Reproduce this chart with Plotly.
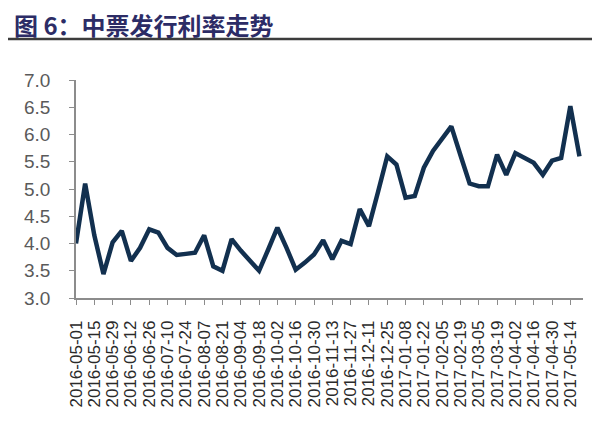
import pandas as pd
import plotly.graph_objects as go

# Weekly observation dates (2016-05-01 .. 2017-05-21)
dates = pd.date_range("2016-05-01", periods=56, freq="7D")

# 中票发行利率 (%)
rates = [4.00, 5.10, 4.15, 3.44, 4.02, 4.23, 3.68, 3.92, 4.26, 4.20,
         3.92, 3.79, 3.81, 3.83, 4.15, 3.58, 3.50, 4.08, 3.87, 3.69,
         3.50, 3.89, 4.29, 3.92, 3.52, 3.65, 3.80, 4.06, 3.71, 4.05,
         3.99, 4.63, 4.32, 4.95, 5.60, 5.45, 4.84, 4.87, 5.39, 5.70,
         5.93, 6.15, 5.62, 5.10, 5.05, 5.05, 5.63, 5.26, 5.66, 5.56,
         5.48, 5.26, 5.52, 5.57, 6.52, 5.60]

tick_labels = ["2016-05-01", "2016-05-15", "2016-05-29", "2016-06-12", "2016-06-26",
               "2016-07-10", "2016-07-24", "2016-08-07", "2016-08-21", "2016-09-04",
               "2016-09-18", "2016-10-02", "2016-10-16", "2016-10-30", "2016-11-13",
               "2016-11-27", "2016-12-11", "2016-12-25", "2017-01-08", "2017-01-22",
               "2017-02-05", "2017-02-19", "2017-03-05", "2017-03-19", "2017-04-02",
               "2017-04-16", "2017-04-30", "2017-05-14"]

y_ticks = [3.0, 3.5, 4.0, 4.5, 5.0, 5.5, 6.0, 6.5, 7.0]

title_text = "图 6：中票发行利率走势"

fig = go.Figure()
fig.add_trace(go.Scatter(
    x=dates, y=rates, mode="lines",
    line=dict(color="#12304f", width=4.5),
    hoverinfo="skip", showlegend=False,
))

x_end = dates[-1] + pd.Timedelta(days=2.7)

fig.update_layout(
    width=600, height=421,
    margin=dict(l=68, r=25, t=72, b=131),
    paper_bgcolor="white", plot_bgcolor="white",
    font=dict(family="Liberation Sans, Arial, sans-serif"),
    xaxis=dict(
        range=[dates[0], x_end],
        tickmode="array",
        tickvals=tick_labels,
        ticktext=tick_labels,
        tickangle=-90,
        tickfont=dict(size=17, color="#2a2a2a"),
        showline=True, linecolor="#8c8c8c", linewidth=1.5,
        ticks="outside", ticklen=5, tickcolor="#8c8c8c",
        showgrid=False, zeroline=False,
        ticklabelstandoff=9,
    ),
    yaxis=dict(
        range=[3.0, 7.0],
        tickmode="array",
        tickvals=y_ticks,
        ticktext=[f"{v:.1f}" for v in y_ticks],
        tickfont=dict(size=19, color="#5a5a5a"),
        showline=True, linecolor="#8c8c8c", linewidth=1.5,
        ticks="outside", ticklen=5, tickcolor="#8c8c8c",
        showgrid=False, zeroline=False,
        ticklabelstandoff=15,
    ),
)

fig.add_annotation(
    text=f"<b>{title_text}</b>",
    xref="paper", yref="paper", showarrow=False,
    xanchor="left", yanchor="middle",
    x=-68 / 507.0, y=1 + (72 - 16) / 218.0, xshift=4,
    font=dict(family="Noto Sans CJK SC", size=24, color="#2c2c66"),
)

fig.add_shape(
    type="line", xref="paper", yref="paper",
    x0=-68 / 507.0, x1=(600 - 68) / 507.0,
    y0=1 + (72 - 31) / 218.0, y1=1 + (72 - 31) / 218.0,
    line=dict(color="#3c3c3c", width=2.5),
)

fig.write_html("out.html")
